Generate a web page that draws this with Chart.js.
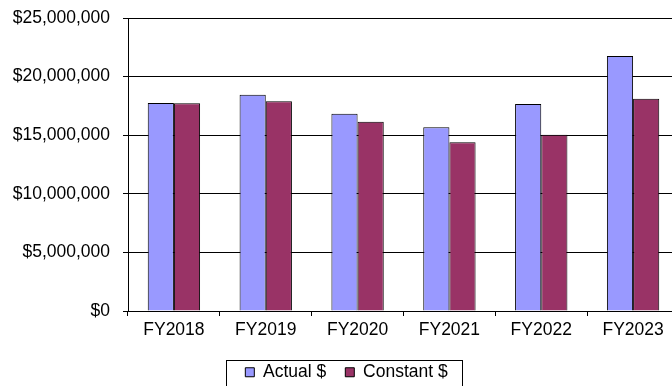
<!DOCTYPE html>
<html>
<head>
<meta charset="utf-8">
<script src="https://cdn.jsdelivr.net/npm/chart.js@4/dist/chart.umd.min.js"></script>
<style>
  html, body { margin: 0; padding: 0; overflow: hidden; background: #fff; }
  #wrap { width: 680px; height: 391px; }
</style>
</head>
<body>
<div id="wrap"><canvas id="bars" width="680" height="391"></canvas></div>
<script>
// values
var years = ['FY2018', 'FY2019', 'FY2020', 'FY2021', 'FY2022', 'FY2023'];
var actual = [17750000, 18450000, 16830000, 15670000, 17660000, 21760000];
var constant = [17720000, 17900000, 16150000, 14390000, 15040000, 18120000];
var yTicks = [0, 5000000, 10000000, 15000000, 20000000, 25000000];

var fnt = { family: 'Arial, "Liberation Sans", sans-serif', size: 17.5 };

function money(v) {
  return '$' + Math.round(v).toString().replace(/\B(?=(\d{3})+(?!\d))/g, ',');
}

// nudge the legend a bit right and put a border round it
var legendFrame = {
  id: 'legendFrame',
  afterLayout: function(chart) {
    var lg = chart.legend, dx = 7;
    lg.left += dx; lg.right += dx;
    lg.legendHitBoxes.forEach(function(b) { b.left += dx; });
  },
  afterDraw: function(chart) {
    var boxes = chart.legend.legendHitBoxes;
    if (!boxes || !boxes.length) return;
    var first = boxes[0], last = boxes[boxes.length - 1];
    var c = chart.ctx;
    var l = Math.round(first.left - 19) + 0.5;
    var r = Math.round(last.left + last.width + 14) + 0.5;
    var t = Math.round(first.top - 4) + 0.5;
    c.save();
    c.strokeStyle = '#000';
    c.lineWidth = 1;
    c.strokeRect(l, t, r - l, 60);
    c.restore();
  }
};

Chart.defaults.font = fnt;
Chart.defaults.color = '#000';

new Chart(document.getElementById('bars').getContext('2d'), {
  type: 'bar',
  data: {
    labels: years,
    datasets: [{
      label: 'Actual $',
      data: actual,
      backgroundColor: '#9999FF',
      borderColor: '#000',
      borderWidth: 1
    }, {
      label: 'Constant $',
      data: constant,
      backgroundColor: '#993366',
      borderColor: '#000',
      borderWidth: 1
    }]
  },
  options: {
    responsive: false,
    animation: false,
    layout: { padding: { top: 18, right: 1, left: 0, bottom: 0 } },
    datasets: { bar: { barPercentage: 1, categoryPercentage: 0.57 } },
    plugins: {
      tooltip: { enabled: false },
      legend: {
        position: 'bottom',
        labels: {
          font: fnt,
          boxWidth: 9,
          boxHeight: 9,
          padding: 19,
          color: '#000'
        }
      }
    },
    scales: {
      x: {
        grid: { display: true, drawOnChartArea: false, color: '#000', tickLength: 5 },
        border: { color: '#000' },
        ticks: { font: fnt, padding: 4, maxRotation: 0 },
        afterFit: function(s) {
          s.height = 33.5;
          s.paddingLeft = 0; s.paddingRight = 0;
        }
      },
      y: {
        min: 0,
        max: 25000000,
        afterBuildTicks: function(s) { s.ticks = yTicks.map(function(v) { return { value: v }; }); },
        grid: { color: '#000', tickLength: 5 },
        border: { color: '#000' },
        ticks: { font: fnt, padding: 13, callback: function(v) { return money(v); } },
        afterFit: function(s) {
          s.width = 128;
          s.paddingTop = 0; s.paddingBottom = 0;
        }
      }
    }
  },
  plugins: [legendFrame]
});
</script>
</body>
</html>
